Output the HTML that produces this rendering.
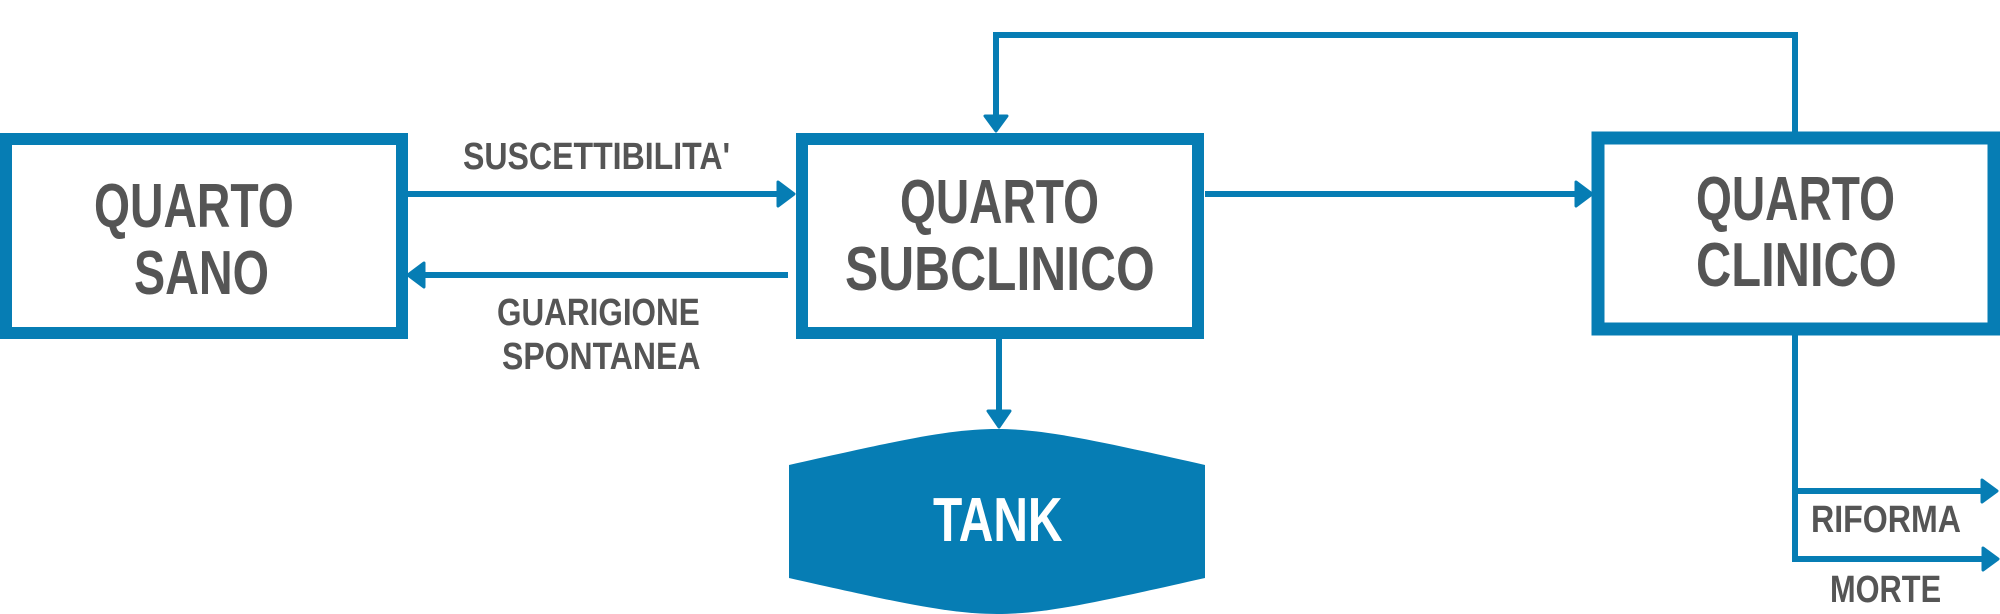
<!DOCTYPE html>
<html><head><meta charset="utf-8"><style>
html,body{margin:0;padding:0;background:#fff;width:2000px;height:614px;overflow:hidden}
svg{display:block}
text{font-family:"Liberation Sans",sans-serif;font-weight:bold;fill:#555}
</style></head><body>
<svg width="2000" height="614" viewBox="0 0 2000 614" xmlns="http://www.w3.org/2000/svg">
<g fill="none" stroke="#067db4">
<rect x="6" y="139" width="396" height="194" stroke-width="12"/>
<rect x="802" y="139" width="396" height="194" stroke-width="12"/>
<rect x="1598" y="138" width="396" height="191" stroke-width="13"/>
<g stroke-width="6">
<line x1="408" y1="194" x2="780" y2="194"/>
<line x1="788" y1="275" x2="420" y2="275"/>
<line x1="1205" y1="194" x2="1578" y2="194"/>
<polyline points="1795,132 1795,35 996,35 996,118"/>
<line x1="999" y1="339" x2="999" y2="412"/>
<polyline points="1795,335 1795,559 1985,559"/>
<line x1="1795" y1="491" x2="1985" y2="491"/>
</g>
</g>
<g fill="#067db4" stroke="#067db4" stroke-width="3" stroke-linejoin="round">
<polygon points="778,182 794,194 778,206"/>
<polygon points="424,263 408,275 424,287"/>
<polygon points="1576,182 1592,194 1576,206"/>
<polygon points="985,116 1007,116 996,131"/>
<polygon points="988,411 1010,411 999,427"/>
<polygon points="1982,480 1997,491 1982,502"/>
<polygon points="1983,548 1998,559 1983,570"/>
</g>
<path d="M789,465 C900,440 950,429 997,429 C1044,429 1094,440 1205,465 L1205,578 C1094,603 1044,614 997,614 C950,614 900,603 789,578 Z" fill="#067db4"/>
<text font-size="62" transform="translate(94,227) scale(0.747,1)">QUARTO</text>
<text font-size="62" transform="translate(134,294) scale(0.754,1)">SANO</text>
<text font-size="62" transform="translate(900,223) scale(0.744,1)">QUARTO</text>
<text font-size="62" transform="translate(845,290) scale(0.803,1)">SUBCLINICO</text>
<text font-size="62" transform="translate(1696,220) scale(0.744,1)">QUARTO</text>
<text font-size="62" transform="translate(1696,286) scale(0.788,1)">CLINICO</text>
<text font-size="62" transform="translate(933,541) scale(0.773,1)" style="fill:#fff">TANK</text>
<text font-size="38" transform="translate(463,169) scale(0.844,1)">SUSCETTIBILITA'</text>
<text font-size="38" transform="translate(497,325) scale(0.828,1)">GUARIGIONE</text>
<text font-size="38" transform="translate(502,369) scale(0.842,1)">SPONTANEA</text>
<text font-size="38" transform="translate(1811,532) scale(0.846,1)">RIFORMA</text>
<text font-size="38" transform="translate(1830,602) scale(0.81,1)">MORTE</text>
</svg>
</body></html>
